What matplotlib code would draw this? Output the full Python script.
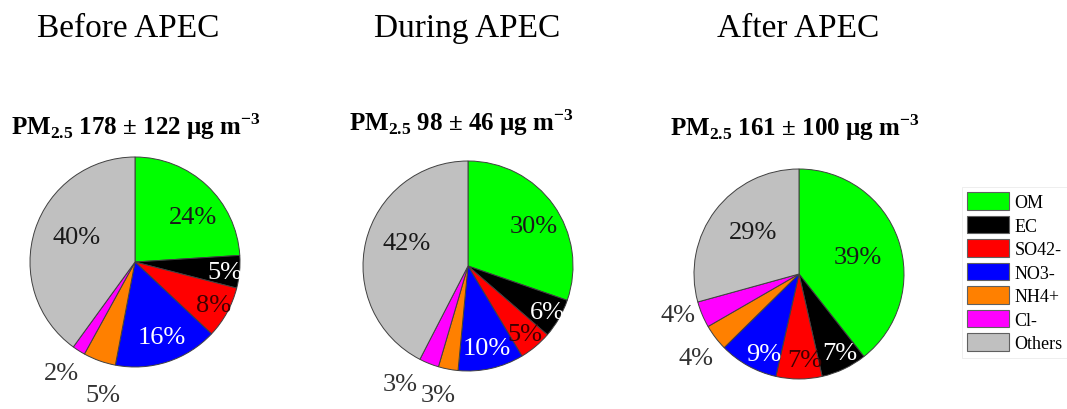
import numpy as np
import matplotlib
matplotlib.use("Agg")
import matplotlib.pyplot as plt
from matplotlib.patches import Patch

plt.rcParams['font.family'] = ['Liberation Serif', 'DejaVu Serif']
plt.rcParams['mathtext.fontset'] = 'custom'
plt.rcParams['mathtext.rm'] = 'Liberation Serif'
plt.rcParams['mathtext.bf'] = 'Liberation Serif:bold'

# data
species = ["OM", "EC", "SO42-", "NO3-", "NH4+", "Cl-", "Others"]
periods = ["Before APEC", "During APEC", "After APEC"]
pm_mean = [178, 98, 161]
pm_sd = [122, 46, 100]
before = [24, 5, 8, 16, 5, 2, 40]
during = [30, 6, 5, 10, 3, 3, 42]
after = [39, 7, 7, 9, 4, 4, 29]
shares = [before, during, after]

colors = ["#00ff00", "#000000", "#ff0000", "#0000ff", "#ff8000", "#ff00ff", "#c0c0c0"]
text_colors = ["#1a1a1a", "white", "#400000", "white", "#333333", "#333333", "#1a1a1a"]

# label placement per pie: (radius fraction, angle shift in deg)
label_pos = [
    [(0.70, -9), (0.86, -1), (0.85, 0), (0.76, 2), (1.30, 6), (1.27, -1), (0.60, -5)],
    [(0.73, -4), (0.87, 0), (0.84, 0), (0.80, 0), (1.26, -2), (1.30, -8), (0.62, -7)],
    [(0.58, -3), (0.85, 2), (0.82, 4), (0.83, 5), (1.27, 2), (1.22, -4), (0.59, -5)],
]

W, H = 1067, 410
fig = plt.figure(figsize=(W / 100, H / 100), dpi=100)

# pie centres in pixels (x from left, y from top) and radius
centres = [(135, 263), (468, 267), (799, 275)]
R = 105
title_x = [128, 467, 798]
sub_pos = [(136, 127), (461, 123), (795, 128)]

for i in range(3):
    cx, cy = centres[i]
    size = 2.4 * R
    ax = fig.add_axes([(cx - size / 2) / W, (H - cy - size / 2) / H, size / W, size / H])
    wedges, _ = ax.pie(shares[i], colors=colors, startangle=90, counterclock=False,
                       radius=1.0, wedgeprops=dict(edgecolor="#404040", linewidth=0.7))
    for j, w in enumerate(wedges):
        r, shift = label_pos[i][j]
        ang = np.deg2rad((w.theta1 + w.theta2) / 2 + shift)
        ax.text(r * np.cos(ang), r * np.sin(ang), f"{shares[i][j]}%",
                ha="center", va="center", fontsize=19, color=text_colors[j])
    ax.set_xlim(-1.2, 1.2)
    ax.set_ylim(-1.2, 1.2)
    ax.set_aspect("equal")
    ax.axis("off")

    fig.text(title_x[i] / W, 1 - 29 / H, periods[i], ha="center", va="center", fontsize=24)
    sx, sy = sub_pos[i]
    fig.text(sx / W, 1 - sy / H,
             r"PM$_\mathbf{2.5}$ " + f"{pm_mean[i]} ± {pm_sd[i]} μg m" + r"$^\mathbf{-3}$",
             ha="center", va="center", fontsize=18, fontweight="bold")

handles = [Patch(facecolor=c, edgecolor="#606060", linewidth=0.8) for c in colors]
leg = fig.legend(handles, species, loc="upper left", bbox_to_anchor=(962 / W, 1 - 188 / H),
                 fontsize=13, frameon=True, fancybox=False, handlelength=2.3, handleheight=1.1,
                 handletextpad=0.3, labelspacing=0.26, borderpad=0.3, borderaxespad=0)
leg.get_frame().set_edgecolor("#e6e6e6")
leg.get_frame().set_linewidth(0.6)

fig.savefig("out.png", dpi=100)
